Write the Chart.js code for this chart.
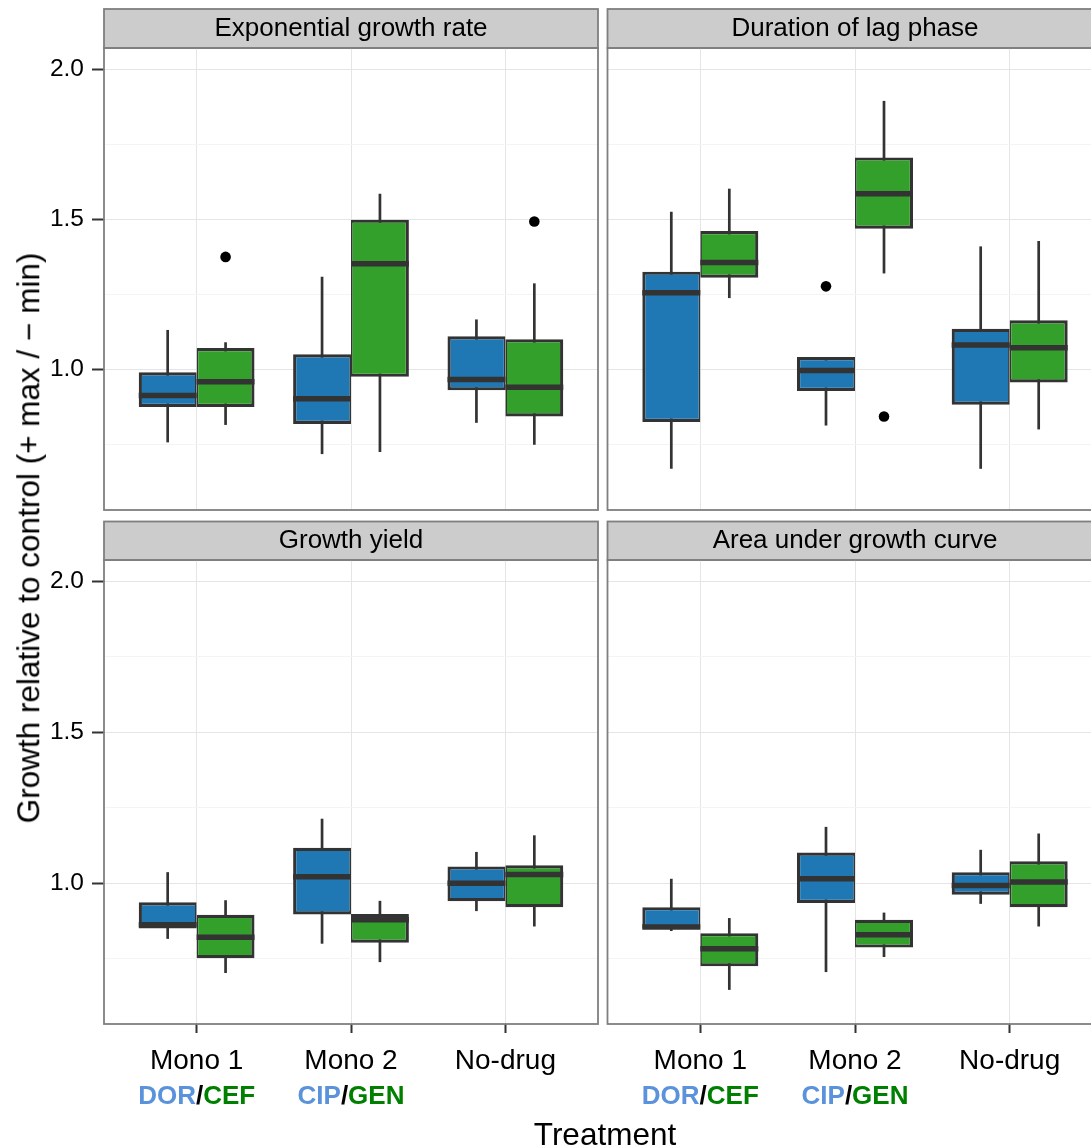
<!DOCTYPE html>
<html><head><meta charset="utf-8">
<script src="https://cdn.jsdelivr.net/npm/chart.js"></script>
<style>
html,body{margin:0;padding:0;background:#fff;overflow:hidden;}
#wrap{position:relative;width:1091px;height:1148px;overflow:hidden;background:#fff;font-family:'Liberation Sans',Arial,sans-serif;}
canvas{position:absolute;}
.ttl{position:absolute;white-space:nowrap;color:#000;font-size:31.5px;line-height:1;transform:translate(-50%,-50%);}
</style></head><body>
<div id="wrap">
<canvas id="c0" width="600" height="515" style="left:0;top:0"></canvas>
<canvas id="c1" width="510" height="515" style="left:600px;top:0"></canvas>
<canvas id="c2" width="600" height="636" style="left:0;top:512px"></canvas>
<canvas id="c3" width="510" height="636" style="left:600px;top:512px"></canvas>
<div class="ttl" style="left:29px;top:538px;transform:translate(-50%,-50%) rotate(-90deg)">Growth relative to control (+ max / − min)</div>
<div class="ttl" style="left:605px;top:1135px">Treatment</div>
</div>
<script>
// ---------- data ----------
const categories = ["Mono 1", "Mono 2", "No-drug"];
const drugA = ["DOR", "CIP", ""];   // blue series
const drugB = ["CEF", "GEN", ""];   // green series
const panelTitles = ["Exponential growth rate", "Duration of lag phase", "Growth yield", "Area under growth curve"];
const yMajorTicks = [1.0, 1.5, 2.0];
const yTickLabels = ["1.0", "1.5", "2.0"];
const yMinorTicks = [0.75, 1.25, 1.75];

// five-number summaries per treatment: [lower whisker, Q1, median, Q3, upper whisker]
const rateA = [[0.758, 0.876, 0.914, 0.991, 1.132], [0.719, 0.819, 0.903, 1.051, 1.309], [0.823, 0.931, 0.967, 1.111, 1.167]];
const rateB = [[0.816, 0.876, 0.960, 1.072, 1.091], [0.726, 0.976, 1.352, 1.499, 1.585], [0.750, 0.844, 0.941, 1.101, 1.287]];
const rateOutA = [[], [], []];
const rateOutB = [[1.375], [], [1.493]];

const lagA = [[0.670, 0.826, 1.256, 1.326, 1.525], [0.814, 0.929, 0.997, 1.042, 1.042], [0.670, 0.883, 1.082, 1.136, 1.410]];
const lagB = [[1.238, 1.306, 1.356, 1.461, 1.602], [1.320, 1.469, 1.585, 1.706, 1.894], [0.801, 0.957, 1.073, 1.164, 1.428]];
const lagOutA = [[], [1.277], []];
const lagOutB = [[], [0.844], []];

const yieldA = [[0.815, 0.849, 0.862, 0.936, 1.036], [0.799, 0.896, 1.021, 1.117, 1.213], [0.907, 0.940, 0.999, 1.055, 1.103]];
const yieldB = [[0.702, 0.751, 0.820, 0.895, 0.943], [0.738, 0.802, 0.878, 0.897, 0.941], [0.856, 0.920, 1.028, 1.059, 1.158]];
const yieldOutA = [[], [], []];
const yieldOutB = [[], [], []];

const aucA = [[0.841, 0.849, 0.854, 0.920, 1.014], [0.705, 0.934, 1.014, 1.101, 1.186], [0.931, 0.961, 0.992, 1.036, 1.110]];
const aucB = [[0.646, 0.724, 0.782, 0.834, 0.884], [0.755, 0.786, 0.829, 0.878, 0.902], [0.856, 0.920, 1.003, 1.072, 1.164]];
const aucOutA = [[], [], []];
const aucOutB = [[], [], []];

// ---------- style ----------
const FONT = "'Liberation Sans', Arial, sans-serif";
Chart.defaults.font.family = FONT;
Chart.defaults.color = '#000';
const COL_A = '#1F78B4', COL_B = '#33A02C', LINE = '#333333', FRAME = '#7F7F7F';
const TXT_A = '#5A93DB', TXT_B = '#008000';
const GROUP_W = 0.75;            // total dodge width per treatment (x units)
const DODGE = GROUP_W / 4;       // centre offset of each box
const BW = 3.2;

const isMajor = v => yMajorTicks.some(m => Math.abs(m - v) < 1e-6);
const zeroPad = s => { s.paddingLeft = 0; s.paddingRight = 0; s.paddingTop = 0; s.paddingBottom = 0; };

const facetPlugin = {
  id: 'facet',
  beforeDraw(chart) {
    const ctx = chart.ctx, ca = chart.chartArea, t = chart.titleBlock;
    ctx.save();
    ctx.fillStyle = '#CCCCCC';
    ctx.fillRect(ca.left, t.top, ca.right - ca.left, t.height);
    ctx.strokeStyle = FRAME; ctx.lineWidth = 1.8;
    ctx.strokeRect(ca.left, t.top, ca.right - ca.left, t.height);
    ctx.restore();
  },
  beforeDatasetsDraw(chart) {
    const ctx = chart.ctx, ys = chart.scales.y;
    ctx.save();
    ctx.strokeStyle = LINE; ctx.lineWidth = 2.7;
    chart.data.datasets.forEach((ds, di) => {
      if (!ds.summary) return;
      chart.getDatasetMeta(di).data.forEach((el, j) => {
        const s = ds.summary[j];
        ctx.beginPath();
        ctx.moveTo(el.x, ys.getPixelForValue(s[0]));
        ctx.lineTo(el.x, ys.getPixelForValue(s[4]));
        ctx.stroke();
      });
    });
    ctx.restore();
  },
  afterDatasetsDraw(chart) {
    const ctx = chart.ctx, ys = chart.scales.y;
    ctx.save();
    ctx.strokeStyle = LINE; ctx.lineWidth = 5.5; ctx.lineCap = 'butt';
    chart.data.datasets.forEach((ds, di) => {
      if (!ds.summary) return;
      chart.getDatasetMeta(di).data.forEach((el, j) => {
        const y = ys.getPixelForValue(ds.summary[j][2]);
        ctx.beginPath();
        ctx.moveTo(el.x - el.width / 2, y);
        ctx.lineTo(el.x + el.width / 2, y);
        ctx.stroke();
      });
    });
    ctx.restore();
  },
  afterDraw(chart) {
    const ctx = chart.ctx, ca = chart.chartArea;
    ctx.save();
    ctx.strokeStyle = FRAME; ctx.lineWidth = 1.8;
    ctx.strokeRect(ca.left, ca.top, ca.right - ca.left, ca.bottom - ca.top);
    if (chart.options.plugins.facet && chart.options.plugins.facet.drugLabels) {
      const xs = chart.scales.x;
      ctx.font = 'bold 26px ' + FONT;
      ctx.textBaseline = 'middle';
      ctx.textAlign = 'left';
      categories.forEach((c, i) => {
        if (!drugA[i]) return;
        const parts = [[drugA[i], TXT_A], ['/', '#000'], [drugB[i], TXT_B]];
        const total = parts.reduce((a, p) => a + ctx.measureText(p[0]).width, 0);
        let x = xs.getPixelForValue(i + 1) - total / 2;
        const y = ca.bottom + 73;
        parts.forEach(p => { ctx.fillStyle = p[1]; ctx.fillText(p[0], x, y); x += ctx.measureText(p[0]).width; });
      });
    }
    ctx.restore();
  }
};

function boxDataset(summ, color, side) {
  return {
    type: 'bar',
    data: summ.map((s, i) => ({ x: i + 1, y: [s[1], s[3]] })),
    summary: summ,
    backgroundColor: color,
    borderColor: LINE,
    borderWidth: side === 0 ? { top: BW, bottom: BW, left: BW, right: BW / 2 } : { top: BW, bottom: BW, left: BW / 2, right: BW },
    borderSkipped: false,
    categoryPercentage: GROUP_W,
    barPercentage: 1,
    order: 1
  };
}

function outlierDataset(outA, outB) {
  const pts = [];
  outA.forEach((vals, i) => vals.forEach(v => pts.push({ x: i + 1 - DODGE, y: v })));
  outB.forEach((vals, i) => vals.forEach(v => pts.push({ x: i + 1 + DODGE, y: v })));
  return { type: 'scatter', data: pts, pointRadius: 5.3, pointHoverRadius: 5.3, pointBackgroundColor: '#000', pointBorderWidth: 0, showLine: false, order: 0 };
}

function makePanel(id, title, sA, sB, oA, oB, o) {
  new Chart(document.getElementById(id), {
    type: 'bar',
    data: { datasets: [outlierDataset(oA, oB), boxDataset(sA, COL_A, 0), boxDataset(sB, COL_B, 1)] },
    plugins: [facetPlugin],
    options: {
      responsive: false, animation: false, devicePixelRatio: 1,
      layout: { padding: o.pad, autoPadding: false },
      plugins: {
        legend: { display: false }, tooltip: { enabled: false },
        title: { display: true, text: title, fullSize: false, color: '#000',
          font: { size: 26, weight: 'normal', lineHeight: 1.2 }, padding: { top: 4, bottom: o.titleBottom } },
        facet: { drugLabels: o.showX }
      },
      scales: {
        x: {
          type: 'linear', min: 0.4, max: 3.6, offset: false,
          afterBuildTicks: s => { s.ticks = categories.map((c, i) => ({ value: i + 1 })); },
          grid: { color: '#E5E5E5', lineWidth: 1, offset: false, drawTicks: o.showX, tickLength: 9, tickColor: LINE, tickWidth: 2 },
          border: { display: false },
          ticks: { display: o.showX, font: { size: 28 }, color: '#000', padding: 11, maxRotation: 0, autoSkip: false,
            callback: v => categories[Math.round(v) - 1] },
          afterFit: s => { s.height = o.showX ? 124 : 0; zeroPad(s); }
        },
        y: {
          type: 'linear', min: 0.533, max: 2.07,
          afterBuildTicks: s => { s.ticks = yMinorTicks.concat(yMajorTicks).sort((a, b) => a - b).map(v => ({ value: v })); },
          grid: {
            color: c => isMajor(c.tick.value) ? '#E5E5E5' : '#F4F4F4', lineWidth: 1,
            drawTicks: o.showY, tickLength: 12, tickWidth: 2,
            tickColor: c => isMajor(c.tick.value) ? LINE : 'rgba(0,0,0,0)'
          },
          border: { display: false },
          ticks: { display: o.showY, font: { size: 24.5 }, color: '#000', padding: 8,
            callback: v => { const k = yMajorTicks.findIndex(m => Math.abs(m - v) < 1e-6); return k >= 0 ? yTickLabels[k] : ''; } },
          afterFit: s => { s.width = o.showY ? 104 : 0; zeroPad(s); }
        }
      }
    }
  });
}

makePanel('c0', panelTitles[0], rateA, rateB, rateOutA, rateOutB,
  { showX: false, showY: true, titleBottom: 3.8, pad: { top: 9, left: 0, right: 2, bottom: 5 } });
makePanel('c1', panelTitles[1], lagA, lagB, lagOutA, lagOutB,
  { showX: false, showY: false, titleBottom: 3.8, pad: { top: 9, left: 7.5, right: 7.5, bottom: 5 } });
makePanel('c2', panelTitles[2], yieldA, yieldB, yieldOutA, yieldOutB,
  { showX: true, showY: true, titleBottom: 3.3, pad: { top: 9.5, left: 0, right: 2, bottom: 0 } });
makePanel('c3', panelTitles[3], aucA, aucB, aucOutA, aucOutB,
  { showX: true, showY: false, titleBottom: 3.3, pad: { top: 9.5, left: 7.5, right: 7.5, bottom: 0 } });
</script>
</body></html>
